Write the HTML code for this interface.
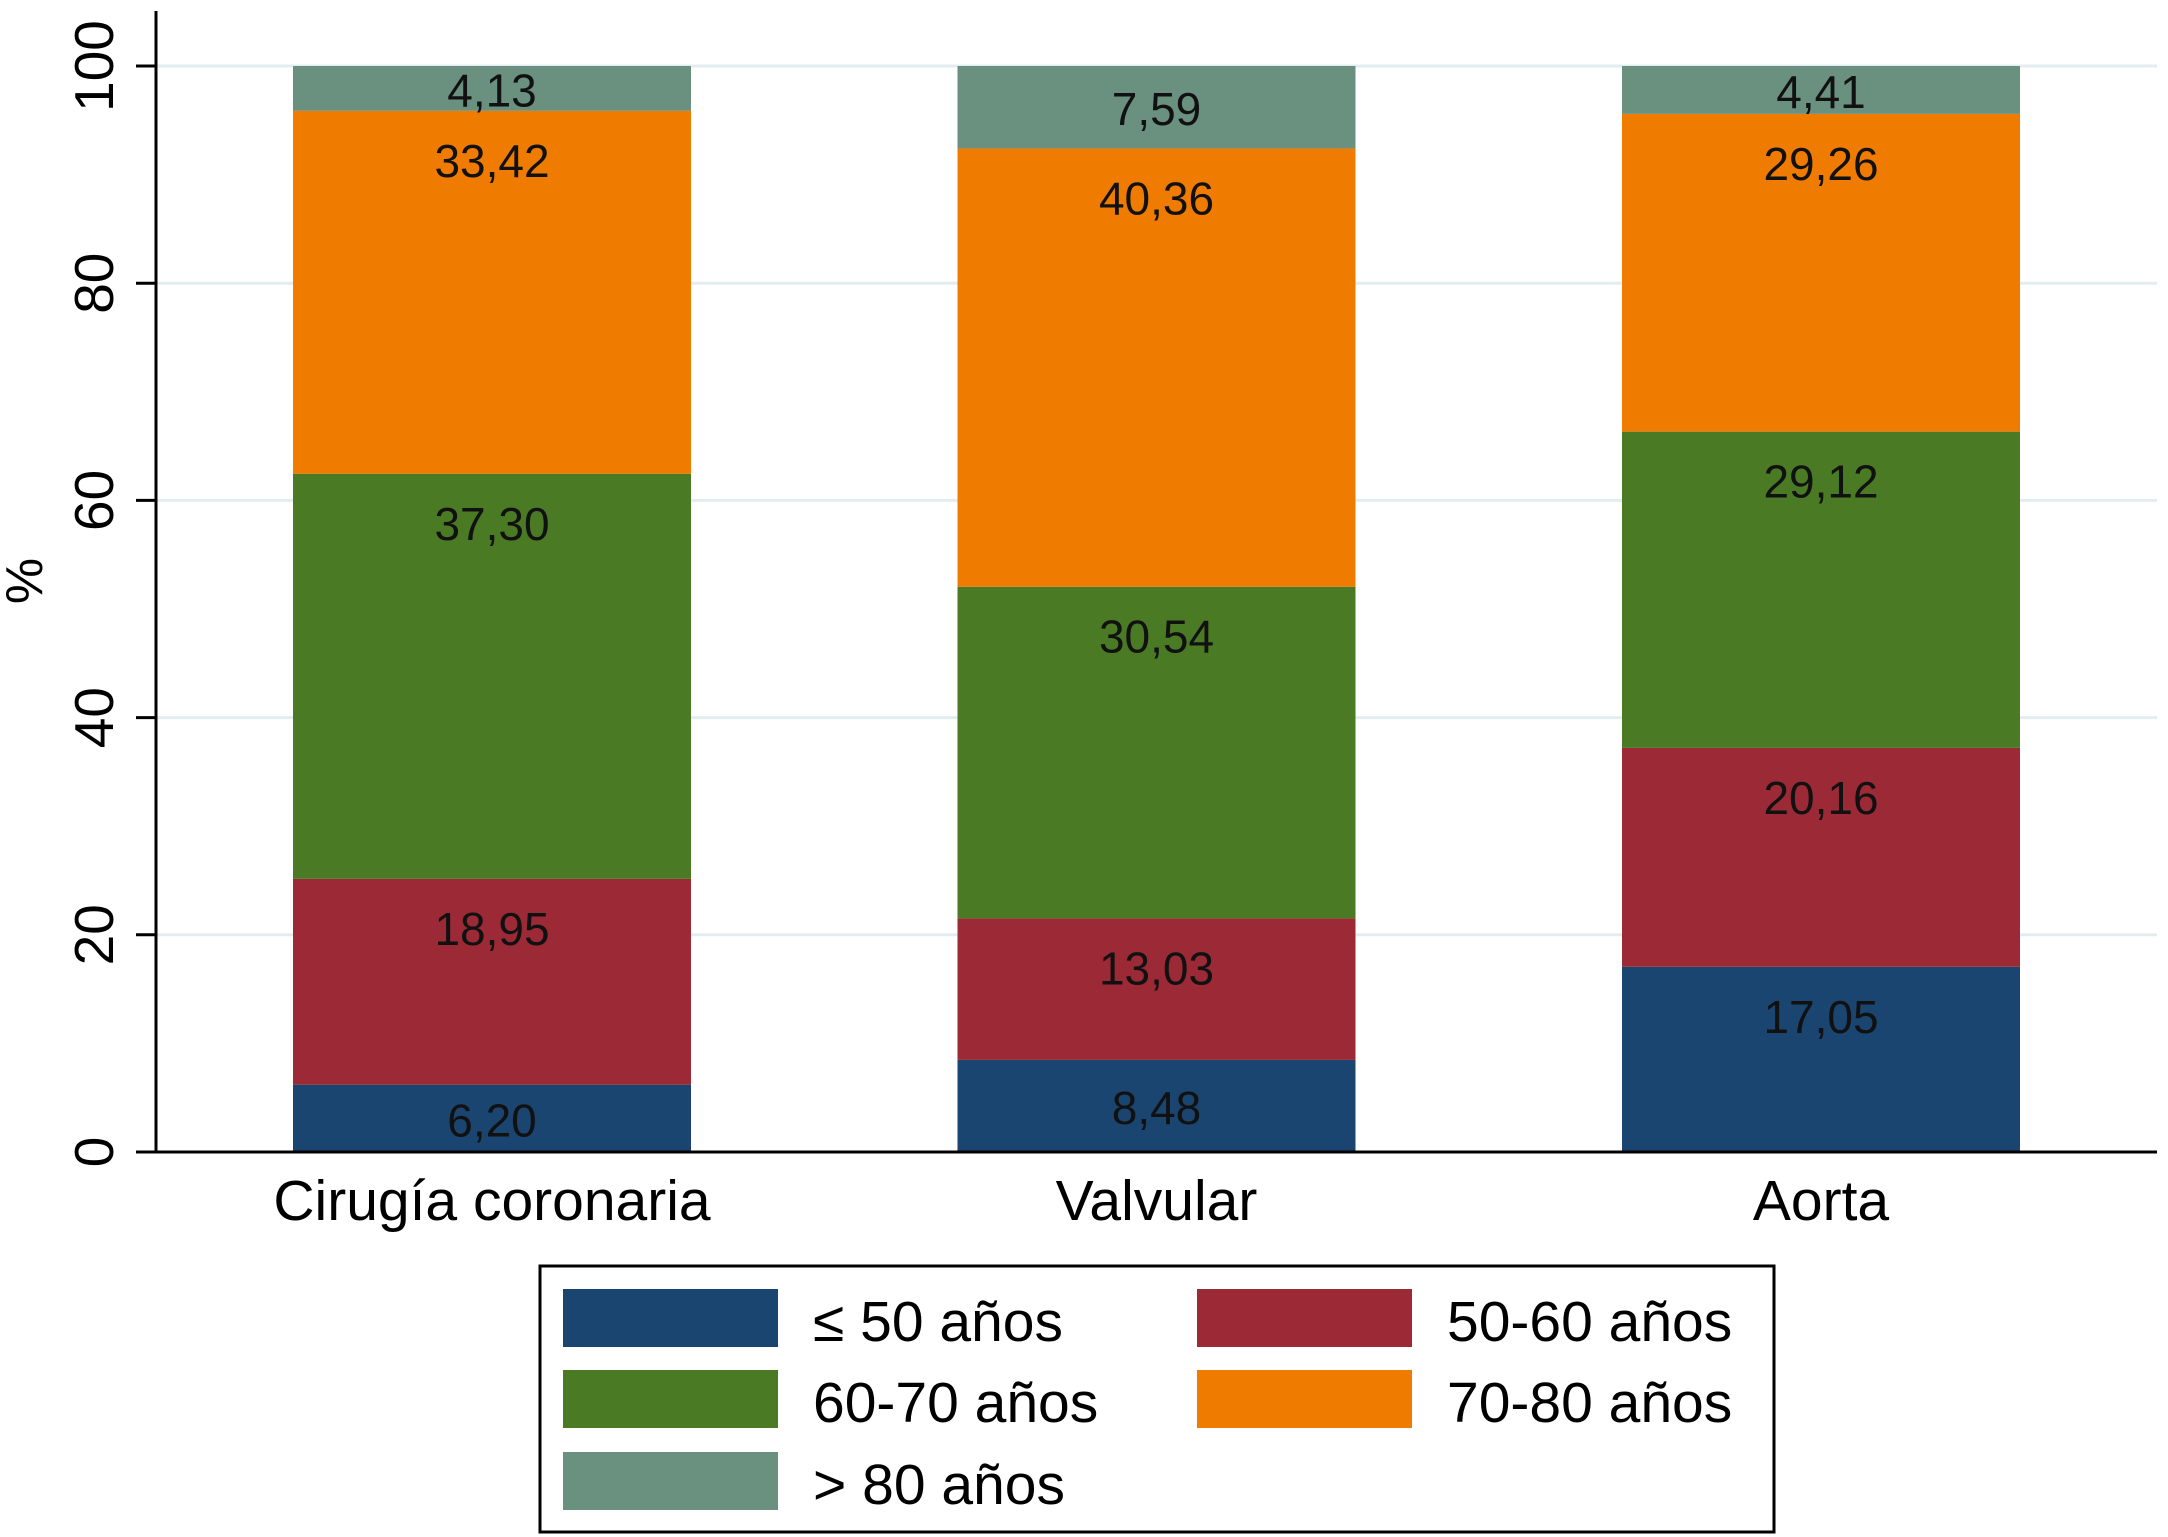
<!DOCTYPE html>
<html><head><meta charset="utf-8"><style>
html,body{margin:0;padding:0;background:#fff;}
svg{display:block;font-family:"Liberation Sans",sans-serif;}
</style></head><body>
<svg id="chart" width="2168" height="1537" viewBox="0 0 2168 1537">
<g id="grid"></g><g id="bars"></g><g id="axes"></g><g id="legend"></g>
</svg>
<script>
const categories = ["Cirugía coronaria", "Valvular", "Aorta"];
const seriesNames = ["≤ 50 años", "50-60 años", "60-70 años", "70-80 años", "> 80 años"];
const s50 = [6.20, 8.48, 17.05];
const s5060 = [18.95, 13.03, 20.16];
const s6070 = [37.30, 30.54, 29.12];
const s7080 = [33.42, 40.36, 29.26];
const s80 = [4.13, 7.59, 4.41];
const labels50 = ["6,20", "8,48", "17,05"];
const labels5060 = ["18,95", "13,03", "20,16"];
const labels6070 = ["37,30", "30,54", "29,12"];
const labels7080 = ["33,42", "40,36", "29,26"];
const labels80 = ["4,13", "7,59", "4,41"];
const yTicks = [0, 20, 40, 60, 80, 100];

const colors = ["#1a4570", "#9c2a36", "#4a7a24", "#ef7b00", "#6a9080"];
const series = [s50, s5060, s6070, s7080, s80];
const seriesLabels = [labels50, labels5060, labels6070, labels7080, labels80];
const NS = "http://www.w3.org/2000/svg";
const X0 = 156, X1 = 2157, Y0 = 1152, Y100 = 66;
const y = v => Y0 - (v / 100) * (Y0 - Y100);
const barW = 398;
const xc = i => 492 + i * 664.5;
function mk(tag, attrs, parent) {
  const e = document.createElementNS(NS, tag);
  for (const k in attrs) e.setAttribute(k, attrs[k]);
  parent.appendChild(e); return e;
}
const grid = document.getElementById("grid"), bars = document.getElementById("bars"),
      axes = document.getElementById("axes"), legend = document.getElementById("legend");
yTicks.forEach(t => {
  if (t > 0) {
    const g = mk("line", {x1: X0, x2: X1, y1: y(t), y2: y(t), stroke: "#e3edf1", "stroke-width": 3}, grid);
    
    
  }
  const tk = mk("line", {x1: X0 - 20, x2: X0, y1: y(t), y2: y(t), stroke: "#000", "stroke-width": 3}, axes);
  
  
  const lb = mk("text", {x: 0, y: 0, "font-size": 55, "text-anchor": "middle", transform: `translate(113,${y(t)}) rotate(-90)`}, axes);
  lb.textContent = t;
  
  
});
categories.forEach((c, i) => {
  let cum = 0;
  series.forEach((s, k) => {
    const v = s[i];
    const top = y(cum + v), bot = y(cum);
    const r = mk("rect", {x: xc(i) - barW / 2, y: top, width: barW, height: bot - top, fill: colors[k]}, bars);
    
    
    const h = bot - top;
    const cy = top + Math.min(50, h / 2 + 2);
    const t = mk("text", {x: xc(i), y: cy + 16, "font-size": 46, "text-anchor": "middle", fill: "#111"}, bars);
    t.textContent = seriesLabels[k][i];
    
    
    cum += v;
  });
  const cl = mk("text", {x: xc(i), y: 1220, "font-size": 57, "text-anchor": "middle"}, axes);
  cl.textContent = c;
  
  
});
const ya = mk("line", {x1: X0, x2: X0, y1: 11, y2: Y0 + 1.5, stroke: "#000", "stroke-width": 3}, axes);


const xa = mk("line", {x1: X0, x2: X1, y1: Y0, y2: Y0, stroke: "#000", "stroke-width": 3}, axes);


const yt = mk("text", {x: 0, y: 0, "font-size": 52, "text-anchor": "middle", transform: "translate(42,581) rotate(-90)"}, axes);
yt.textContent = "%";


const box = mk("rect", {x: 540, y: 1266, width: 1234, height: 266, fill: "#fff", stroke: "#000", "stroke-width": 3}, legend);


const lx = [563, 1197], ly = [1289, 1370, 1452];
seriesNames.forEach((n, k) => {
  const col = k % 2, row = Math.floor(k / 2);
  const sw = mk("rect", {x: lx[col], y: ly[row], width: 215, height: 58, fill: colors[k]}, legend);
  
  
  const t = mk("text", {x: lx[col] + 250, y: ly[row] + 52, "font-size": 57}, legend);
  t.textContent = n;
  
  
});
</script>
</body></html>
